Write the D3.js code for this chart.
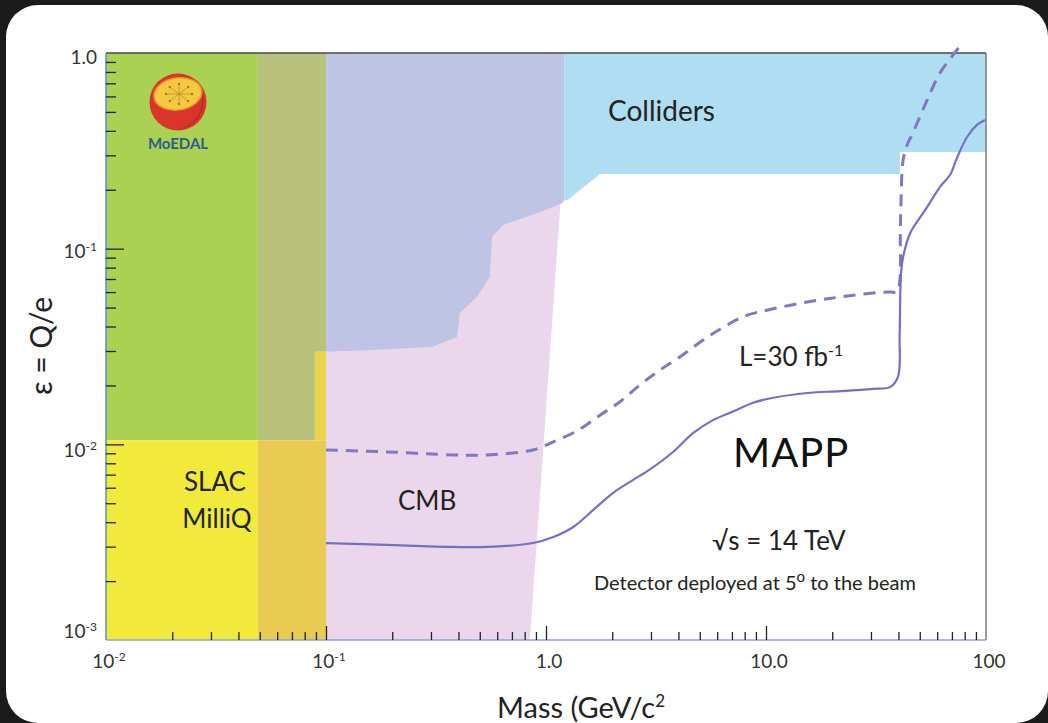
<!DOCTYPE html>
<html>
<head>
<meta charset="utf-8">
<script src="https://cdn.jsdelivr.net/npm/d3@7"></script>
<style>
html, body { margin: 0; padding: 0; background: #1b1b1b; }
svg { display: block; }
text { font-family: Lato, "Open Sans", sans-serif; fill: #222; }
</style>
</head>
<body>
<div id="chart"></div>
<script>
// tick labels
var xMajor = [0.01, 0.1, 1, 10, 100];
var xMajorBase = ["10", "10", "1.0", "10.0", "100"];
var xMajorSup = ["-2", "-1", "", "", ""];
var yMajor = [1, 0.1, 0.01, 0.001];
var yMajorBase = ["1.0", "10", "10", "10"];
var yMajorSup = ["", "-1", "-2", "-3"];
var yLabelNudge = [11, 9, 13, -2];

// excluded regions, points are [mass GeV/c2, epsilon]
var greenRegion = [[0.01, 0.0105], [0.049, 0.0105], [0.049, 1], [0.01, 1]];
var oliveRegion = [[0.049, 0.0105], [0.089, 0.0105], [0.089, 0.0297], [0.1, 0.0297], [0.1, 1], [0.049, 1]];
var slacRegion = [[0.01, 0.001], [0.049, 0.001], [0.049, 0.0105], [0.01, 0.0105]];
var slacOverlap = [[0.049, 0.001], [0.1, 0.001], [0.1, 0.0105], [0.049, 0.0105]];
var slacStrip = [[0.089, 0.0105], [0.1, 0.0105], [0.1, 0.0297], [0.089, 0.0297]];
var cmbRegion = [[0.1, 0.001], [0.845, 0.001], [1.16, 0.163], [1.16, 0.35], [0.1, 0.35]];
var lavenderRegion = [[0.1, 1], [1.21, 1], [1.21, 0.177], [1.19, 0.171], [0.94, 0.154], [0.638, 0.132],
  [0.569, 0.115], [0.556, 0.0717], [0.485, 0.0566], [0.406, 0.0469], [0.394, 0.0354], [0.306, 0.0315],
  [0.171, 0.0304], [0.1, 0.0297]];
var colliderRegion = [[1.21, 1], [100, 1], [100, 0.312], [40.6, 0.312], [40.6, 0.241], [1.76, 0.241],
  [1.25, 0.177], [1.21, 0.177]];

// MAPP reach, L = 300 fb-1 (solid)
var mappMass = [0.1, 0.189, 0.378, 0.54, 0.873, 1.08, 1.33, 1.64, 2.02, 2.49, 2.97, 3.78, 4.66, 5.74, 7.08,
  8.73, 10.8, 15.4, 21.7, 30.6, 36.6, 39.8, 40.5, 41.1, 42.0, 45.2, 54.0, 61.8, 68.6, 73.8, 82.0, 91.0, 98.9];
var mappEps = [3.13e-3, 3.06e-3, 2.99e-3, 2.99e-3, 3.13e-3, 3.36e-3, 3.78e-3, 4.62e-3, 5.65e-3, 6.58e-3,
  7.45e-3, 9.14e-3, 1.14e-2, 1.33e-2, 1.47e-2, 1.63e-2, 1.73e-2, 1.83e-2, 1.87e-2, 1.92e-2, 1.96e-2,
  2.21e-2, 3.71e-2, 7.51e-2, 9.07e-2, 0.120, 0.163, 0.207, 0.238, 0.291, 0.372, 0.429, 0.455];

// L = 30 fb-1 (dashed)
var l30Mass = [0.1, 0.189, 0.378, 0.54, 0.873, 1.08, 1.40, 1.76, 2.17, 2.67, 3.30, 4.07, 5.12, 6.31, 8.03,
  10.2, 15.4, 21.7, 30.6, 36.6, 39.4, 40.6, 40.8, 41.1, 42.0, 43.8, 46.5, 54.0, 61.8, 69.7, 75.0];
var l30Eps = [9.36e-3, 9.15e-3, 8.83e-3, 8.83e-3, 9.36e-3, 1.03e-2, 1.18e-2, 1.41e-2, 1.65e-2, 2.01e-2,
  2.40e-2, 2.80e-2, 3.38e-2, 3.93e-2, 4.53e-2, 4.86e-2, 5.34e-2, 5.66e-2, 5.94e-2, 6.01e-2, 6.01e-2,
  6.92e-2, 0.120, 0.177, 0.284, 0.339, 0.390, 0.575, 0.791, 0.954, 1.06];

var W = 1048, H = 723;
var svg = d3.select('#chart').append('svg').attr('width', W).attr('height', H);

// card
svg.append('rect').attr('width', W).attr('height', H).attr('fill', '#1b1b1b');
svg.append('rect').attr('x', 6).attr('y', 5).attr('width', 1042).attr('height', 718)
  .attr('rx', 32).attr('fill', '#fff');

var x = d3.scaleLog().domain([0.01, 100]).range([106, 986]);
var y = d3.scaleLog().domain([0.001, 1]).range([640, 53]);

var poly = d3.line().x(function (d) { return x(d[0]); }).y(function (d) { return y(d[1]); });

var regions = [
  [cmbRegion, '#ebd7eb'],
  [lavenderRegion, '#bfc3e4'],
  [colliderRegion, '#afddf1'],
  [greenRegion, '#abd152'],
  [oliveRegion, '#b9c27c'],
  [slacRegion, '#f1ea3a'],
  [slacOverlap, '#e8cb50'],
  [slacStrip, '#ebd449']
];
svg.append('g').selectAll('path')
  .data(regions)
  .enter().append('path')
  .attr('d', function (d) { return poly(d[0]) + 'Z'; })
  .attr('fill', function (d) { return d[1]; });

// frame
svg.append('line').attr('x1', 106).attr('x2', 986).attr('y1', 53).attr('y2', 53)
  .attr('stroke', '#4a4a4a').attr('stroke-width', 1.5);
svg.append('line').attr('x1', 986).attr('x2', 986).attr('y1', 53).attr('y2', 640)
  .attr('stroke', '#7a7a7a').attr('stroke-width', 1.5);
svg.append('line').attr('x1', 106).attr('x2', 106).attr('y1', 53).attr('y2', 640)
  .attr('stroke', '#5b8fc4').attr('stroke-width', 1.5);
svg.append('line').attr('x1', 106).attr('x2', 986).attr('y1', 640).attr('y2', 640)
  .attr('stroke', '#8ea6d6').attr('stroke-width', 1.5);

// ticks
var xMinor = x.ticks().filter(function (v) { return xMajor.indexOf(v) < 0; });
var yMinor = y.ticks().filter(function (v) { return yMajor.indexOf(v) < 0; });

function styleAxis(g) {
  g.select('.domain').remove();
  g.selectAll('.tick line').attr('stroke', '#222').attr('stroke-width', 1.3);
  g.selectAll('.tick text').remove();
}
svg.append('g').attr('transform', 'translate(0,640)')
  .call(d3.axisTop(x).tickValues(xMinor).tickSize(8)).call(styleAxis);
svg.append('g').attr('transform', 'translate(0,640)')
  .call(d3.axisTop(x).tickValues(xMajor.slice(1, 4)).tickSize(14)).call(styleAxis);
svg.append('g').attr('transform', 'translate(106,0)')
  .call(d3.axisRight(y).tickValues(yMinor).tickSize(10)).call(styleAxis);
svg.append('g').attr('transform', 'translate(106,0)')
  .call(d3.axisRight(y).tickValues(yMajor.slice(1, 3)).tickSize(18)).call(styleAxis);

// tick labels
var xl = svg.append('g').selectAll('text')
  .data(xMajor)
  .enter().append('text')
  .attr('x', function (d) { return x(d) + 3; })
  .attr('y', 668)
  .attr('text-anchor', 'middle')
  .style('font-size', '19px').style('fill', '#333');
xl.append('tspan').text(function (d, i) { return xMajorBase[i]; });
xl.append('tspan').attr('dy', -7).style('font-size', '12px')
  .text(function (d, i) { return xMajorSup[i]; });

var yl = svg.append('g').selectAll('text')
  .data(yMajor)
  .enter().append('text')
  .attr('x', 97)
  .attr('y', function (d, i) { return y(d) + yLabelNudge[i]; })
  .attr('text-anchor', 'end')
  .style('font-size', '19px').style('fill', '#333');
yl.append('tspan').text(function (d, i) { return yMajorBase[i]; });
yl.append('tspan').attr('dy', -7).style('font-size', '12px')
  .text(function (d, i) { return yMajorSup[i]; });

// reach curves
var curve = d3.line()
  .x(function (d) { return x(d[0]); })
  .y(function (d) { return y(d[1]); })
  .curve(d3.curveCatmullRom.alpha(0.5));
svg.append('path')
  .attr('d', curve(l30Mass.map(function (m, i) { return [m, l30Eps[i]]; })))
  .attr('fill', 'none').attr('stroke', '#8078c0').attr('stroke-width', 3)
  .attr('stroke-dasharray', '12,8');
svg.append('path')
  .attr('d', curve(mappMass.map(function (m, i) { return [m, mappEps[i]]; })))
  .attr('fill', 'none').attr('stroke', '#7470c4').attr('stroke-width', 2.2);

// labels
function label(tx, ty, str, size, anchor) {
  return svg.append('text').attr('x', tx).attr('y', ty)
    .attr('text-anchor', anchor || 'start').style('font-size', size + 'px').text(str);
}
label(608, 121, 'Colliders', 28);
label(215, 491, 'SLAC', 26, 'middle');
label(217, 528, 'MilliQ', 26, 'middle');
label(398, 510, 'CMB', 26);
var lt = label(739, 366, 'L=30 fb', 26);
lt.append('tspan').attr('dy', -10).style('font-size', '16px').text('-1');
label(733, 467, 'MAPP', 40).style('letter-spacing', '1px').style('fill', '#111');
label(712, 550, '\u221As = 14 TeV', 26);
var dt = label(594, 590, 'Detector deployed at 5', 20);
dt.append('tspan').attr('dy', -8).style('font-size', '15px').text('o');
dt.append('tspan').attr('dy', 8).text(' to the beam');

// axis titles
var mt = label(497, 718, 'Mass (GeV/c', 29);
mt.append('tspan').attr('dy', -11).style('font-size', '17px').text('2');
svg.append('text')
  .attr('transform', 'translate(52,346) rotate(-90)')
  .attr('text-anchor', 'middle')
  .style('font-size', '30px')
  .text('\u03B5 = Q/e');

// MoEDAL logo
var logo = svg.append('g').attr('transform', 'translate(178,102)');
logo.append('circle').attr('r', 28.5).attr('fill', '#d9352c');
logo.append('path').attr('d', 'M 20 -18 A 28.5 28.5 0 0 1 -6 27.5 A 30 30 0 0 0 20 -18 Z')
  .attr('fill', '#c1282a');
logo.append('ellipse').attr('cx', 1).attr('cy', -8).attr('rx', 24).attr('ry', 16)
  .attr('transform', 'rotate(-8)')
  .attr('fill', '#f5c93f').attr('stroke', '#e49a2e').attr('stroke-width', 1.5);
d3.range(8).forEach(function (k) {
  var a = k * Math.PI / 4;
  logo.append('line').attr('x1', 1).attr('y1', -8)
    .attr('x2', 1 + 13 * Math.cos(a)).attr('y2', -8 + 10 * Math.sin(a))
    .attr('stroke', '#b98d3a').attr('stroke-width', 0.8);
  logo.append('circle').attr('cx', 1 + 13 * Math.cos(a)).attr('cy', -8 + 10 * Math.sin(a))
    .attr('r', 1.2).attr('fill', '#9b7a3a');
});
svg.append('text').attr('x', 178).attr('y', 149).attr('text-anchor', 'middle')
  .style('font-size', '15px').style('font-weight', 'bold').style('fill', '#2b5e8e')
  .text('MoEDAL');
</script>
</body>
</html>
